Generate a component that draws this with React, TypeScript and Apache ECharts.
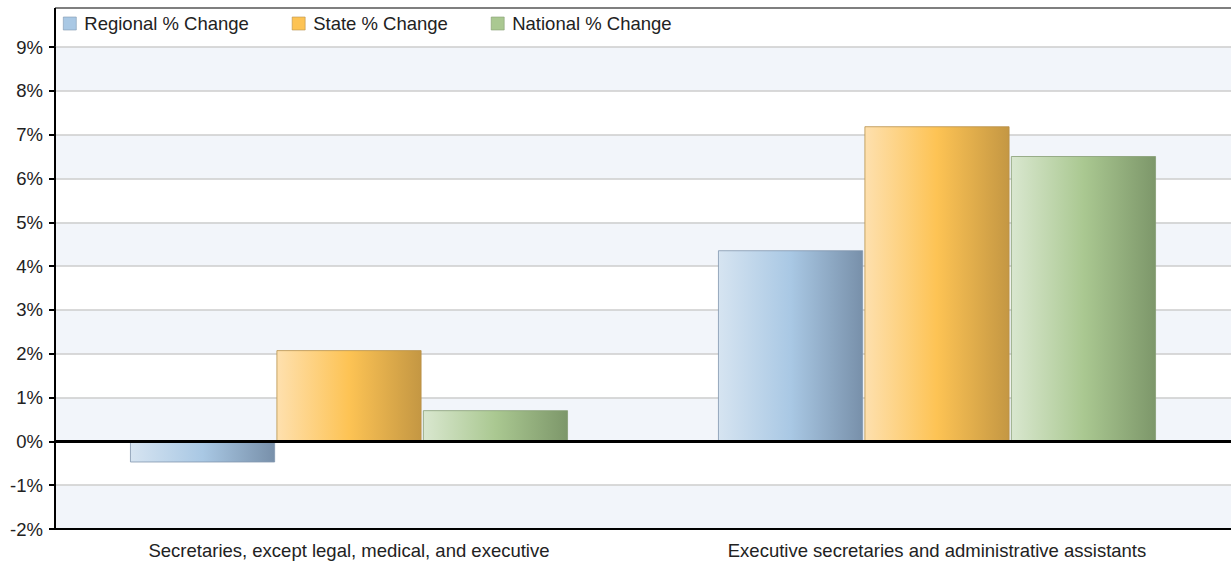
import React, { useEffect, useRef } from "react";
import * as echarts from "echarts";

const categories = [
  "Secretaries, except legal, medical, and executive",
  "Executive secretaries and administrative assistants",
];
const seriesNames = ["Regional % Change", "State % Change", "National % Change"];
const regional = [-0.48, 4.36];
const state = [2.08, 7.19];
const national = [0.71, 6.51];
const yTicks = [-2, -1, 0, 1, 2, 3, 4, 5, 6, 7, 8, 9];

const palettes = [
  { light: "#d6e4f1", mid: "#a9c8e4", dark: "#7890aa", border: "#8197ae", legend: "#a9c8e4" },
  { light: "#fee0ae", mid: "#fdc354", dark: "#c49743", border: "#b8914a", legend: "#fdc354" },
  { light: "#d9e7cf", mid: "#aac891", dark: "#7d976a", border: "#869d73", legend: "#aac891" },
];

function grad(p: { light: string; mid: string; dark: string }) {
  return new echarts.graphic.LinearGradient(0, 0, 1, 0, [
    { offset: 0, color: p.light },
    { offset: 0.5, color: p.mid },
    { offset: 1, color: p.dark },
  ]);
}

export default function App() {
  const ref = useRef<HTMLDivElement>(null);
  useEffect(() => {
    document.body.style.margin = "0";
    const chart = echarts.init(ref.current!, null, { renderer: "svg" });
    const datasets = [regional, state, national];
    const font = "'Liberation Sans', Arial, sans-serif";
    chart.setOption({
      animation: false,
      textStyle: { fontFamily: font },
      legend: {
        left: 58,
        top: 9,
        icon: "rect",
        itemWidth: 13,
        itemHeight: 13,
        itemGap: 43,
        textStyle: { fontSize: 18.5, color: "#222", fontFamily: font, padding: [0, 0, 0, 3] },
        data: seriesNames.map((n, i) => ({
          name: n,
          itemStyle: { color: palettes[i].legend, borderColor: palettes[i].border, borderWidth: 0.6 },
        })),
      },
      grid: { left: 55, right: 0, top: 47, bottom: 36, containLabel: false },
      xAxis: {
        type: "category",
        data: categories,
        axisLine: { onZero: false, lineStyle: { color: "#000", width: 2 } },
        axisTick: { alignWithLabel: true, length: 5, lineStyle: { color: "#000", width: 2 } },
        axisLabel: { fontSize: 18.5, color: "#222", margin: 12, fontFamily: font },
        splitLine: { show: false },
      },
      yAxis: {
        type: "value",
        min: yTicks[0],
        max: yTicks[yTicks.length - 1],
        interval: 1,
        axisLine: { show: true, lineStyle: { color: "#000", width: 2 } },
        axisTick: { show: true, length: 6, lineStyle: { color: "#000", width: 2 } },
        axisLabel: { fontSize: 18.5, color: "#222", margin: 12, formatter: "{value}%", fontFamily: font },
        splitLine: { show: true, lineStyle: { color: "#cccccc", width: 1.5 } },
        splitArea: { show: true, areaStyle: { color: ["#f2f5fa", "#ffffff"] } },
      },
      series: datasets.map((d, i) => ({
        name: seriesNames[i],
        type: "bar",
        data: d,
        barWidth: 145,
        barGap: "1%",
        itemStyle: {
          color: grad(palettes[i]),
          borderColor: palettes[i].border,
          borderWidth: 0.8,
        },
        ...(i === 0
          ? {
              markLine: {
                silent: true,
                symbol: "none",
                label: { show: false },
                lineStyle: { color: "#000", width: 3, type: "solid" },
                data: [{ yAxis: 0 }],
                z: 10,
              },
            }
          : {}),
      })),
      graphic: [
        {
          type: "line",
          shape: { x1: 55, y1: 8, x2: 1231, y2: 8 },
          style: { stroke: "#555", lineWidth: 1.5 },
        },
        {
          type: "line",
          shape: { x1: 55, y1: 8, x2: 55, y2: 48 },
          style: { stroke: "#000", lineWidth: 2 },
        },
      ],
    });
    return () => chart.dispose();
  }, []);
  return <div ref={ref} style={{ width: 1231, height: 565 }} />;
}
